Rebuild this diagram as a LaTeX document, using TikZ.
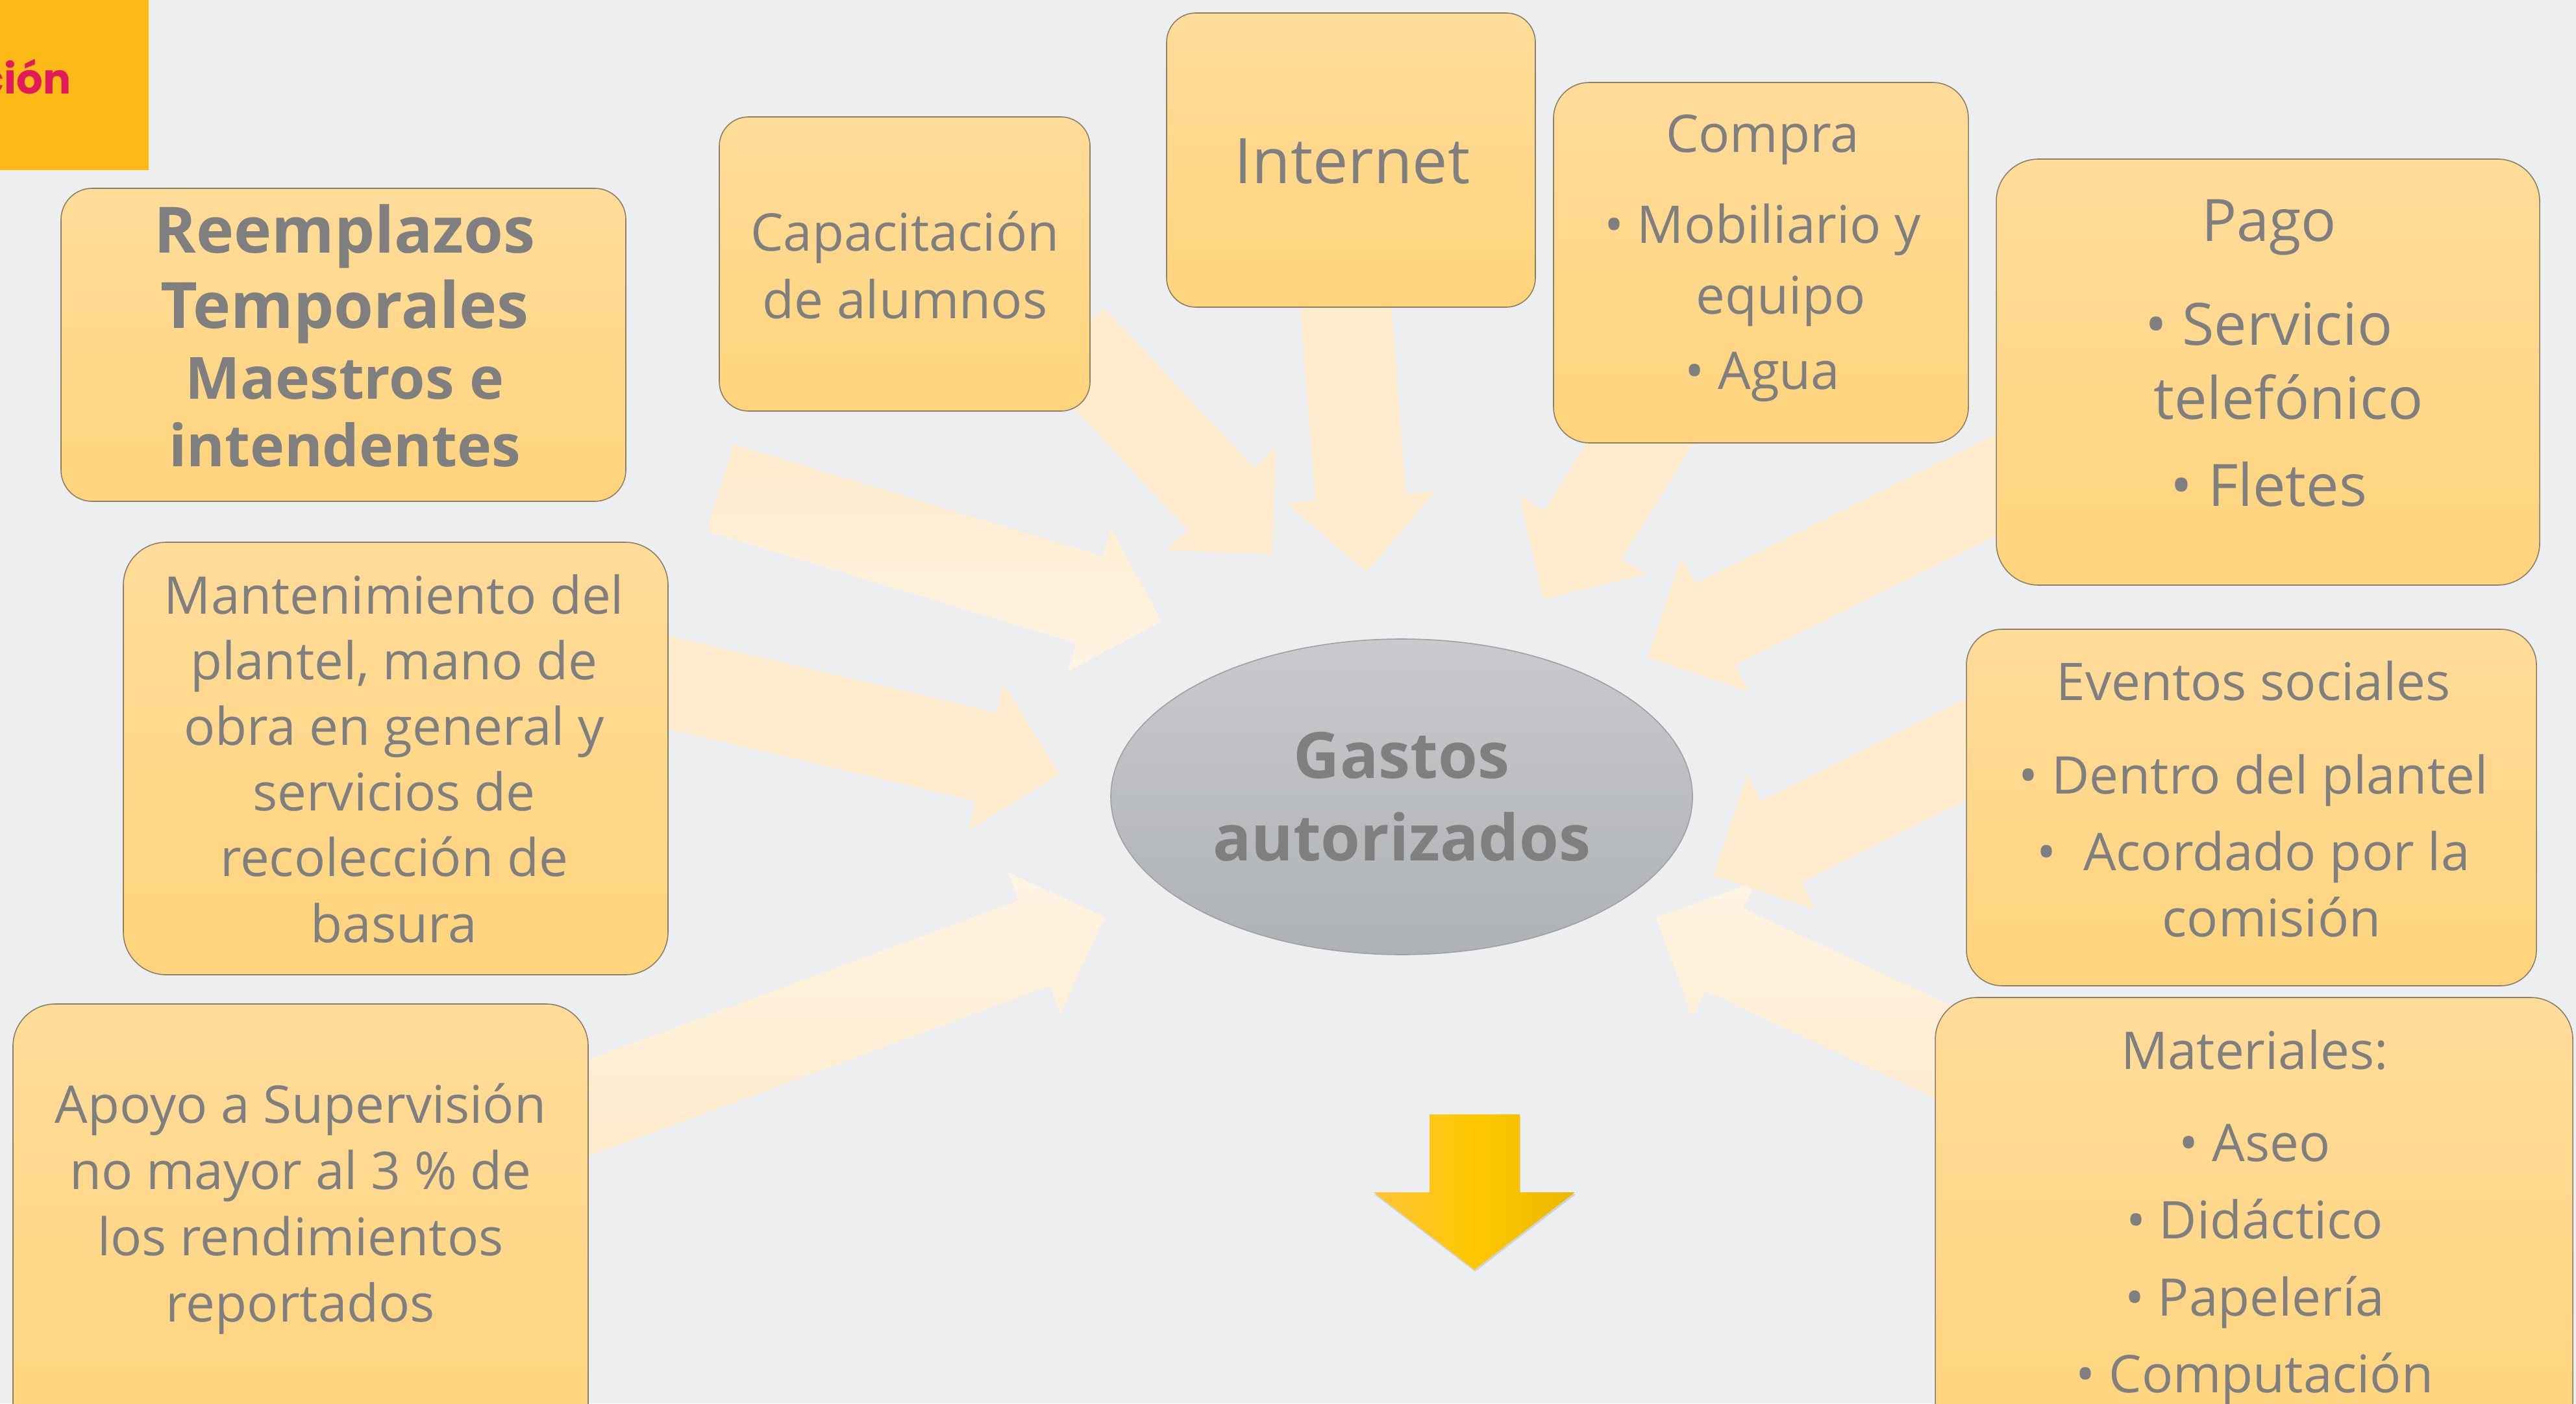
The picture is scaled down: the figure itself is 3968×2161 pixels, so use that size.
\documentclass[tikz,border=0pt]{standalone}
\usepackage{fontspec}
\setmainfont{Open Sans}
\newfontfamily\popfont{Poppins}
\usetikzlibrary{calc,shapes.geometric,shadows}
\definecolor{bg}{RGB}{237,238,240}
\definecolor{boxtop}{RGB}{255,220,154}
\definecolor{boxbot}{RGB}{255,212,124}
\definecolor{boxline}{RGB}{140,128,100}
\definecolor{txtgrey}{RGB}{127,127,127}
\definecolor{arr}{RGB}{255,235,205}
\definecolor{arrlight}{RGB}{255,243,226}
\definecolor{elltop}{RGB}{200,202,205}
\definecolor{ellbot}{RGB}{174,177,181}
\definecolor{ellline}{RGB}{158,160,164}
\definecolor{tagyellow}{RGB}{253,186,23}
\definecolor{tagred}{RGB}{226,25,90}
\definecolor{yl}{RGB}{255,196,58}
\definecolor{ym}{RGB}{255,200,0}
\definecolor{yr}{RGB}{233,184,0}
% block arrow from tail coordinate #1 to tip coordinate #2, style #3
\newcommand\blkarrow[3]{%
  \coordinate (#1-b) at ($(#2)!29pt!(#1)$);
  \path[#3] ($(#1)!17.5pt!90:(#2)$) -- ($(#1-b)!17.5pt!90:(#2)$)
    -- ($(#1-b)!28.9pt!90:(#2)$) -- (#2) -- ($(#1-b)!28.9pt!-90:(#2)$)
    -- ($(#1-b)!17.5pt!-90:(#2)$) -- ($(#1)!17.5pt!-90:(#2)$) -- cycle;}
\tikzset{
  box/.style={draw=boxline, line width=0.4pt, top color=boxtop, bottom color=boxbot,
    rectangle, inner sep=0pt},
  txt/.style={text=txtgrey, align=center, inner sep=0pt},
  arrfill/.style={fill=arr},
}
\begin{document}
\begin{tikzpicture}[x=0.25pt, y=-0.25pt]
\useasboundingbox (0,0) rectangle (3968,2161);
\clip (0,0) rectangle (3968,2161);
\fill[bg] (0,0) rectangle (3968,2161);

% ---- block arrows (tails and tips)
\coordinate (a1t) at (1109,751);  \coordinate (a1h) at (1789,957);
\coordinate (a2t) at (834,1005);  \coordinate (a2h) at (1632,1192);
\coordinate (a3t) at (858,1724);  \coordinate (a3h) at (1702,1412);
\coordinate (a4t) at (1650,522);  \coordinate (a4h) at (1960,853);
\coordinate (a5t) at (2066,383);  \coordinate (a5h) at (2105,881);
\coordinate (a6t) at (2615,540);  \coordinate (a6h) at (2377,922);
\coordinate (a7t) at (3165,702);  \coordinate (a7h) at (2538,1013);
\coordinate (a8t) at (3176,1080); \coordinate (a8h) at (2640,1348);
\coordinate (a9t) at (3185,1710); \coordinate (a9h) at (2551,1413);

\blkarrow{a1t}{a1h}{top color=arr, bottom color=arrlight}
\blkarrow{a2t}{a2h}{arrfill}
\blkarrow{a3t}{a3h}{top color=arrlight, bottom color=arr}
\blkarrow{a4t}{a4h}{arrfill}
\blkarrow{a5t}{a5h}{arrfill}
\blkarrow{a6t}{a6h}{arrfill}
\blkarrow{a7t}{a7h}{arrfill}
\blkarrow{a9t}{a9h}{top color=arrlight, bottom color=arr}
\blkarrow{a8t}{a8h}{arrfill}

% ---- boxes
\node[box, minimum width=217.5pt, minimum height=120.5pt, rounded corners=12pt] (b1) at (529,531) {};
\node[box, minimum width=142.75pt, minimum height=113.25pt, rounded corners=11.25pt] (b2) at (1393.5,406.5) {};
\node[box, minimum width=142pt, minimum height=113.25pt, rounded corners=11.25pt] (b3) at (2081,246.5) {};
\node[box, minimum width=159.75pt, minimum height=138.75pt, rounded corners=13.75pt] (b4) at (2712.5,404.5) {};
\node[box, minimum width=209.25pt, minimum height=164pt, rounded corners=16.25pt] (b5) at (3493.5,573) {};
\node[box, minimum width=209.75pt, minimum height=166.5pt, rounded corners=16.5pt] (b6) at (609.5,1168) {};
\node[box, minimum width=221.5pt, minimum height=173.5pt, rounded corners=16.25pt] (b7) at (463,1893) {};
\node[box, minimum width=219.5pt, minimum height=137.25pt, rounded corners=13.75pt] (b8) at (3468,1243.5) {};
\node[box, minimum width=245.5pt, minimum height=176pt, rounded corners=16.25pt] (b9) at (3472,1888) {};

% ---- texts
\node[txt, font=\bfseries\fontsize{22.4}{26}\selectfont] (t1) at (531,517)
  {{\fontsize{24.6}{29}\selectfont Reemplazos}\\[3pt]{\fontsize{24.6}{29}\selectfont Temporales}\\[1.2pt]Maestros e\\intendentes};
\node[txt, font=\fontsize{20}{26}\selectfont] (t2) at (1394,408) {Capacitación\\de alumnos};
\node[txt, font=\fontsize{24.2}{29}\selectfont] (t3) at (2083,248) {Internet};
\node[txt, font=\fontsize{20}{27.2}\selectfont] (t4) at (2715,398)
  {Compra\\[7.8pt]• Mobiliario y\\\hspace*{14pt}equipo\\[1.8pt]• Agua};
\node[txt, font=\fontsize{22.5}{28.5}\selectfont] (t5) at (3495,544)
  {Pago\\[11.5pt]• Servicio\\\hspace*{15pt}telefónico\\[5pt]• Fletes};
\node[txt, font=\fontsize{20}{25.3}\selectfont] (t6) at (607,1168)
  {Mantenimiento del\\plantel, mano de\\obra en general y\\servicios de\\recolección de\\basura};
\node[txt, font=\fontsize{20}{25.5}\selectfont] (t7) at (463,1861)
  {Apoyo a Supervisión\\no mayor al 3 \% de\\los rendimientos\\reportados};
\node[txt, font=\fontsize{20}{25.3}\selectfont] (t8) at (3471,1230)
  {Eventos sociales\\[10.7pt]• Dentro del plantel\\[4.4pt]•\ \ Acordado por la\\\hspace*{14pt}comisión};
\node[txt, font=\fontsize{20}{29.7}\selectfont] (t9) at (3473,1875)
  {Materiales:\\[5.7pt]• Aseo\\• Didáctico\\• Papelería\\• Computación};

% ---- central ellipse
\node[ellipse, draw=ellline, line width=0.4pt, top color=elltop, bottom color=ellbot,
  minimum width=224pt, minimum height=121.5pt, inner sep=0pt,
  text=txtgrey, align=center, font=\bfseries\fontsize{24.6}{31.6}\selectfont] (g) at (2159,1227)
  {Gastos\\autorizados};

% ---- yellow down arrow
\path[left color=yl, right color=yr, middle color=ym,
  drop shadow={opacity=0.25, shadow xshift=0.3pt, shadow yshift=-0.8pt}]
  (2202,1716) -- (2341,1716) -- (2341,1836) -- (2426,1836) -- (2271,1955)
  -- (2116,1836) -- (2202,1836) -- cycle;
\coordinate (down) at (2271,1955);

% ---- top-left tag
\fill[tagyellow] (0,0) rectangle (229,262);
\node[anchor=base east, inner sep=0pt, text=tagred, font=\popfont\bfseries\fontsize{16}{19}\selectfont] (tag) at (110,145) {ción};
\end{tikzpicture}
\end{document}
